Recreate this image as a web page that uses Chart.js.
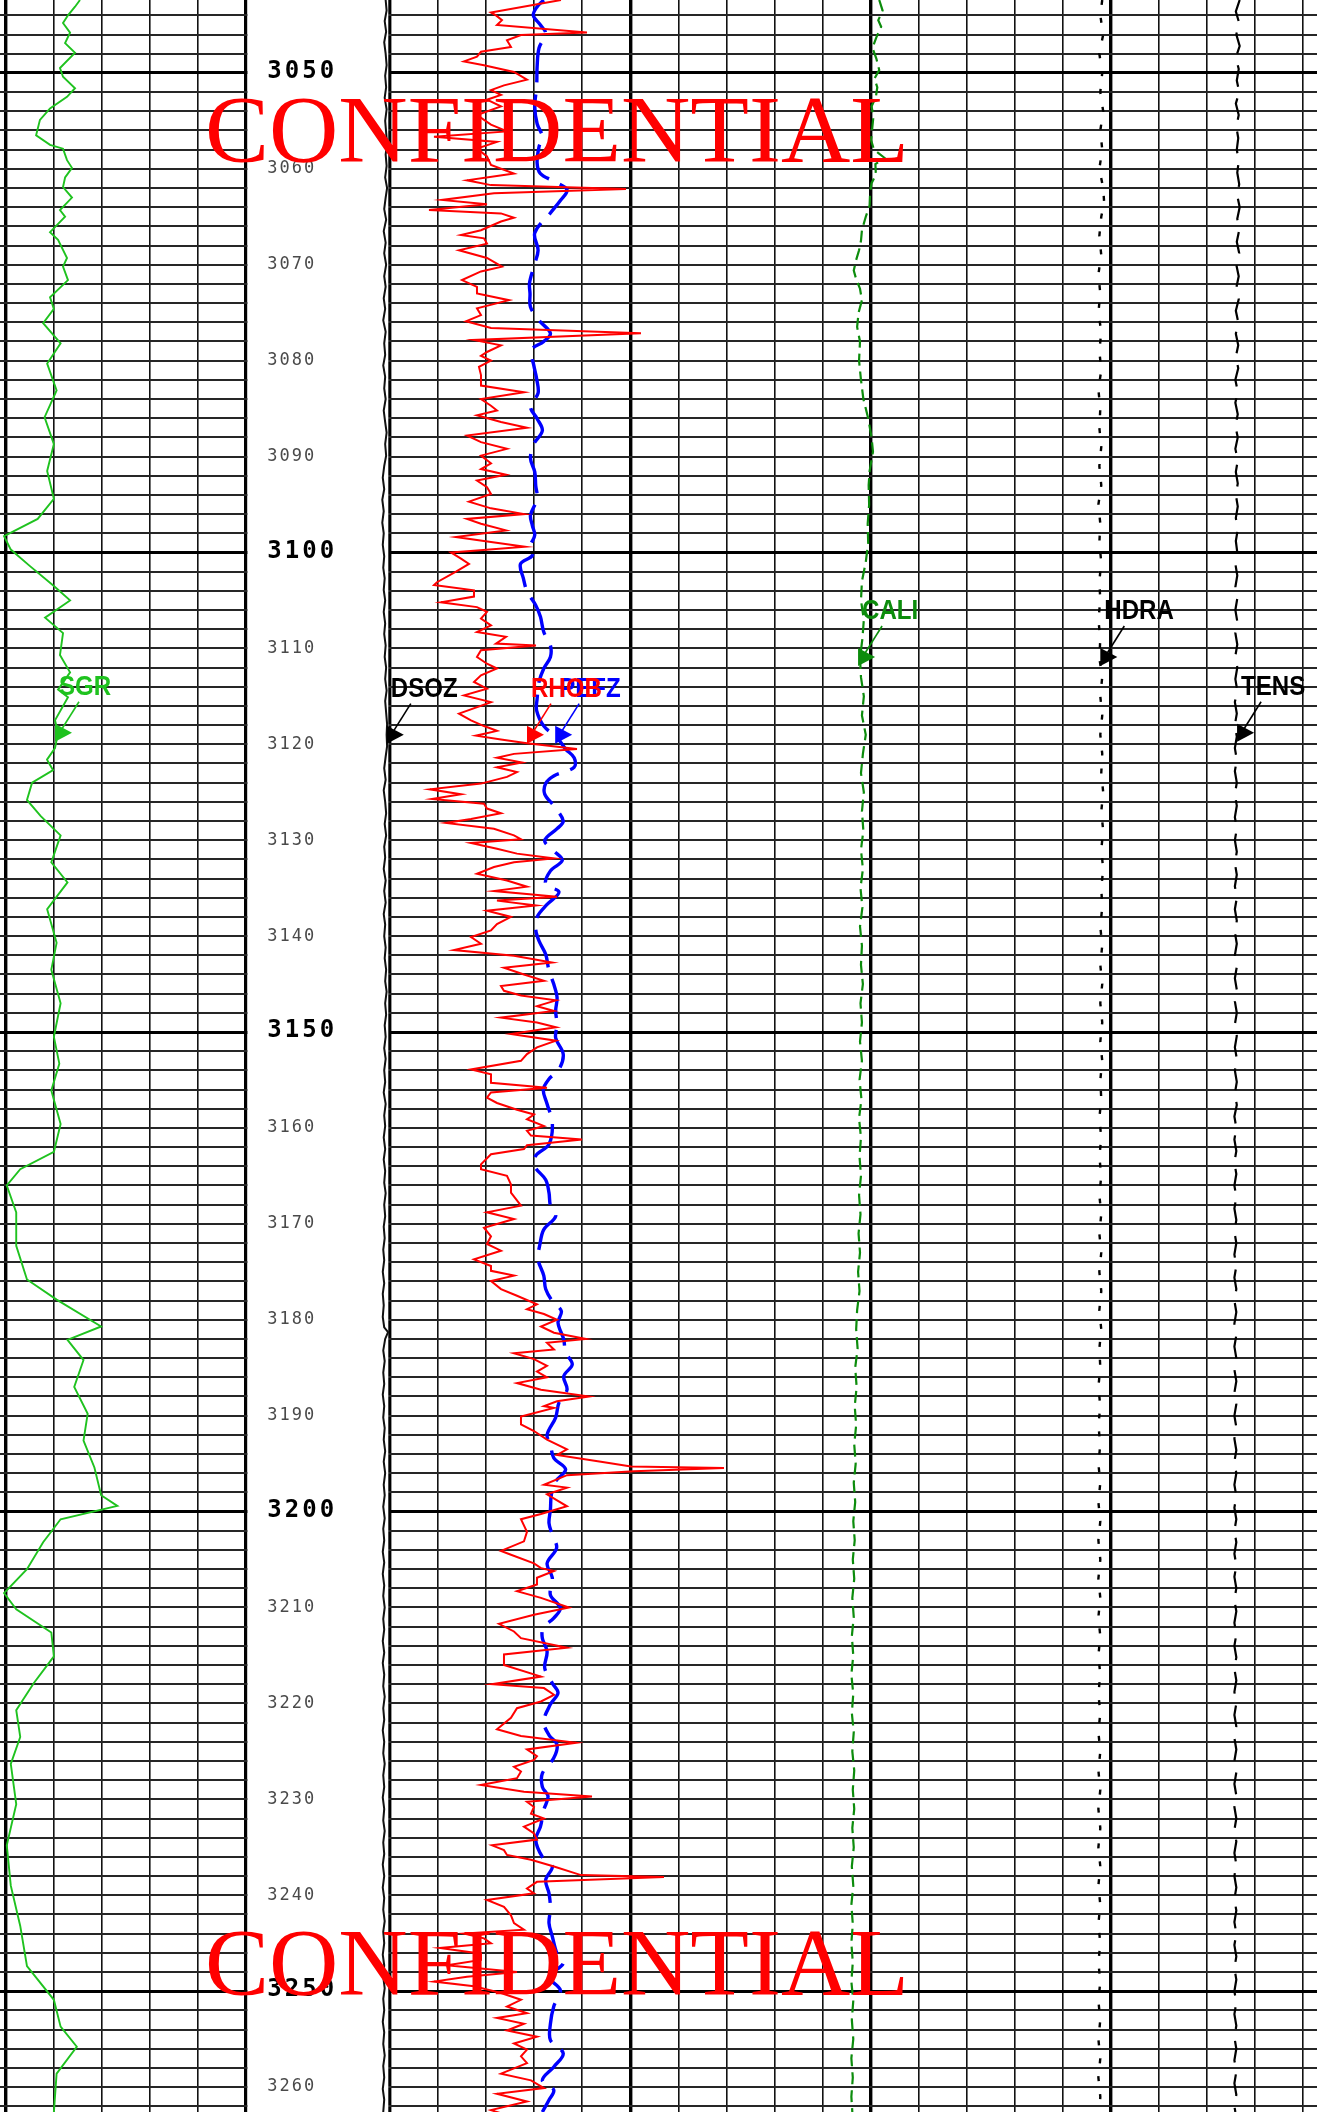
<!DOCTYPE html>
<html><head><meta charset="utf-8">
<script src="https://cdn.jsdelivr.net/npm/chart.js@4.4.1/dist/chart.umd.min.js"></script>
<style>html,body{margin:0;padding:0;background:#fff;overflow:hidden;width:1317px;height:2112px}canvas{display:block}</style>
</head><body>
<canvas id="c" width="1317" height="2112"></canvas>
<script>
// ---------- depth range and tick labels ----------
const depthTop = 3042.4, depthBase = 3262.6;
const depthLabels = [3050,3060,3070,3080,3090,3100,3110,3120,3130,3140,3150,3160,3170,3180,3190,3200,3210,3220,3230,3240,3250,3260];
const depthGridStep = 2;

// ---------- curves: [depth, value] ----------
const sgr = [[3042.4,46.5],[3043.1,43.4],[3044.0,39.0],[3044.8,35.9],[3045.8,40.3],[3046.9,37.2],[3047.9,43.4],[3049.5,34.0],[3050.4,35.9],[3051.6,43.4],[3052.5,38.4],[3053.7,27.8],[3054.9,21.5],[3056.5,19.1],[3057.5,27.8],[3057.9,35.9],[3059.1,38.4],[3059.9,41.5],[3060.9,37.2],[3061.9,35.9],[3063.0,41.5],[3064.3,34.0],[3065.0,37.2],[3066.6,27.8],[3067.4,32.8],[3069.3,38.4],[3070.2,35.9],[3071.6,39.0],[3073.4,27.8],[3074.6,30.2],[3076.1,23.5],[3078.2,34.4],[3080.3,26.0],[3083.1,31.9],[3085.9,24.4],[3088.7,30.2],[3091.5,26.0],[3094.4,30.2],[3096.5,20.1],[3098.3,-0.9],[3099.7,3.3],[3101.4,15.1],[3103.5,30.2],[3105.0,40.3],[3106.8,24.7],[3108.4,35.9],[3110.7,34.0],[3112.5,40.3],[3114.3,32.8],[3115.1,39.0],[3117.5,30.9],[3118.8,32.8],[3120.4,30.9],[3121.6,25.9],[3122.7,29.7],[3124.0,16.6],[3125.8,13.4],[3127.5,22],[3129.5,34.4],[3132.3,28.6],[3134.4,38.7],[3137.2,26.0],[3140.7,31.9],[3143.5,28.6],[3147.0,34.4],[3150.5,30.2],[3153.3,33.6],[3156.1,28.6],[3159.6,34.4],[3162.5,30.2],[3164.3,9.2],[3166.0,0.8],[3168.8,6.7],[3172.3,6.7],[3175.8,13.4],[3177.9,31.9],[3180.7,59.7],[3182.1,38.7],[3184.2,48.7],[3187.0,42.9],[3189.8,51.3],[3192.6,48.7],[3195.4,55.5],[3198.3,59.7],[3199.4,69.8],[3200.8,34.4],[3203.2,23.5],[3206.0,13.4],[3208.5,-0.9],[3210.2,6.7],[3212.6,28.6],[3215.1,30.2],[3217.9,17.6],[3220.7,6.7],[3223.5,9.2],[3226.3,3.3],[3230.5,6.7],[3234.8,0.8],[3239.0,3.3],[3243.2,9.2],[3247.4,13.4],[3250.9,30.2],[3253.7,34.4],[3255.8,44.5],[3258.6,31.9],[3262.6,30.2]];

const rhob = [[3042.4,2.121],[3043.7,2.051],[3044.0,2.056],[3044.5,2.062],[3045.0,2.057],[3045.8,2.147],[3046.05,2.081],[3046.6,2.067],[3047.3,2.071],[3047.8,2.041],[3048.3,2.037],[3048.8,2.024],[3049.2,2.044],[3049.9,2.074],[3050.7,2.087],[3051.3,2.064],[3051.8,2.051],[3052.3,2.061],[3052.8,2.047],[3053.5,2.061],[3054.4,2.037],[3055.4,2.051],[3056.1,2.067],[3056.65,1.994],[3057.2,2.057],[3057.9,2.037],[3058.7,2.047],[3059.6,2.051],[3060.5,2.074],[3061.2,2.027],[3061.7,2.051],[3062.1,2.186],[3062.55,2.054],[3063.25,2.002],[3063.7,2.047],[3064.3,1.989],[3064.65,2.061],[3065.1,2.074],[3065.5,2.061],[3066.4,2.041],[3066.9,2.021],[3067.25,2.044],[3067.8,2.047],[3068.5,2.019],[3069.3,2.047],[3070.2,2.062],[3070.7,2.041],[3071.6,2.022],[3072.3,2.037],[3073.0,2.037],[3073.7,2.069],[3074.55,2.037],[3075.25,2.041],[3075.9,2.026],[3076.6,2.051],[3077.15,2.201],[3077.85,2.034],[3078.4,2.061],[3079.1,2.047],[3079.5,2.041],[3080.0,2.051],[3080.65,2.039],[3081.5,2.041],[3082.6,2.041],[3083.3,2.084],[3084.0,2.041],[3084.7,2.051],[3085.2,2.057],[3085.7,2.037],[3086.4,2.061],[3087.0,2.087],[3087.8,2.027],[3088.5,2.041],[3089.2,2.067],[3089.9,2.041],[3090.7,2.051],[3091.3,2.041],[3091.9,2.066],[3092.5,2.037],[3093.2,2.047],[3093.9,2.051],[3094.7,2.029],[3095.4,2.051],[3096.0,2.084],[3096.5,2.027],[3097.0,2.041],[3097.7,2.066],[3098.4,2.016],[3098.9,2.051],[3099.4,2.085],[3100.0,2.011],[3100.65,2.021],[3101.2,2.029],[3102.0,2.016],[3103.1,1.997],[3103.4,1.994],[3103.95,2.034],[3104.6,2.034],[3105.2,2.001],[3105.7,2.037],[3106.2,2.047],[3106.9,2.041],[3107.6,2.051],[3108.3,2.037],[3108.8,2.066],[3109.5,2.056],[3109.7,2.096],[3110.2,2.041],[3110.9,2.037],[3111.6,2.047],[3112.1,2.057],[3112.8,2.041],[3113.5,2.034],[3114.2,2.047],[3114.9,2.024],[3115.6,2.051],[3116.8,2.019],[3117.5,2.031],[3118.1,2.044],[3118.6,2.057],[3119.1,2.036],[3119.5,2.061],[3119.9,2.087],[3120.5,2.137],[3121.0,2.074],[3121.4,2.057],[3121.9,2.082],[3122.4,2.057],[3122.9,2.077],[3123.4,2.067],[3124.1,2.041],[3124.7,1.990],[3125.2,2.021],[3125.7,1.992],[3126.2,2.044],[3126.7,2.047],[3127.2,2.061],[3127.8,2.031],[3128.2,2.006],[3128.8,2.054],[3129.5,2.074],[3129.9,2.081],[3130.3,2.031],[3130.9,2.057],[3131.4,2.077],[3131.9,2.114],[3132.3,2.074],[3132.8,2.054],[3133.5,2.037],[3134.2,2.067],[3134.85,2.087],[3135.3,2.054],[3135.9,2.117],[3136.3,2.057],[3136.8,2.096],[3137.35,2.047],[3138.0,2.071],[3138.75,2.057],[3139.4,2.051],[3140.1,2.031],[3140.8,2.041],[3141.45,2.014],[3142.05,2.074],[3142.75,2.112],[3143.3,2.064],[3144.0,2.084],[3144.65,2.104],[3145.2,2.061],[3145.7,2.064],[3146.2,2.081],[3146.7,2.116],[3147.3,2.097],[3147.8,2.114],[3148.5,2.061],[3149.0,2.097],[3149.5,2.116],[3150.2,2.071],[3150.9,2.116],[3151.6,2.097],[3152.3,2.087],[3153.0,2.081],[3153.9,2.031],[3154.4,2.051],[3155.3,2.051],[3155.8,2.107],[3156.3,2.051],[3156.85,2.047],[3157.4,2.057],[3158.1,2.077],[3158.6,2.094],[3159.1,2.087],[3159.8,2.104],[3160.3,2.087],[3160.8,2.091],[3161.2,2.142],[3161.8,2.087],[3162.2,2.084],[3162.75,2.051],[3163.8,2.041],[3164.3,2.041],[3165.0,2.067],[3165.9,2.071],[3166.75,2.071],[3168.1,2.081],[3168.8,2.047],[3169.5,2.074],[3170.4,2.044],[3171.3,2.051],[3172.1,2.047],[3172.8,2.061],[3173.7,2.034],[3174.4,2.051],[3174.9,2.051],[3175.4,2.074],[3175.95,2.051],[3176.8,2.061],[3177.5,2.077],[3178.4,2.097],[3178.9,2.087],[3179.4,2.104],[3180.0,2.117],[3180.7,2.101],[3181.35,2.114],[3182.0,2.146],[3182.4,2.107],[3183.1,2.114],[3183.5,2.074],[3184.1,2.094],[3184.8,2.107],[3185.4,2.097],[3186.0,2.107],[3186.6,2.077],[3187.3,2.101],[3188.0,2.149],[3188.5,2.117],[3189.0,2.104],[3189.2,2.114],[3190.1,2.081],[3190.9,2.081],[3191.6,2.094],[3192.5,2.107],[3193.5,2.127],[3194.1,2.117],[3194.8,2.161],[3195.3,2.191],[3195.45,2.284],[3195.8,2.194],[3196.2,2.127],[3197.2,2.104],[3197.5,2.127],[3198.2,2.107],[3199.45,2.127],[3200.25,2.101],[3200.8,2.081],[3202.1,2.087],[3203.1,2.084],[3204.1,2.061],[3204.5,2.071],[3205.4,2.094],[3205.9,2.101],[3206.2,2.114],[3206.9,2.097],[3207.6,2.097],[3208.3,2.077],[3209.0,2.101],[3210.0,2.129],[3210.75,2.094],[3211.7,2.059],[3212.5,2.074],[3213.2,2.081],[3214.2,2.127],[3214.9,2.064],[3216.0,2.064],[3217.2,2.101],[3218.0,2.052],[3218.4,2.104],[3219.1,2.114],[3219.8,2.101],[3220.5,2.077],[3221.5,2.071],[3222.7,2.057],[3223.4,2.081],[3224.1,2.136],[3224.8,2.087],[3225.5,2.097],[3225.9,2.094],[3226.6,2.074],[3227.1,2.081],[3227.8,2.077],[3228.5,2.041],[3229.2,2.084],[3229.7,2.152],[3230.25,2.087],[3230.8,2.094],[3231.5,2.091],[3232.0,2.104],[3232.85,2.084],[3233.55,2.094],[3234.2,2.097],[3234.8,2.052],[3235.3,2.064],[3235.8,2.067],[3236.3,2.091],[3237.0,2.114],[3237.9,2.141],[3238.1,2.224],[3238.6,2.097],[3239.3,2.087],[3239.8,2.094],[3240.5,2.047],[3241.2,2.064],[3242.1,2.071],[3242.9,2.074],[3243.6,2.084],[3244.0,2.024],[3244.5,2.044],[3245.0,2.051],[3245.5,2.000],[3246.1,2.041],[3246.75,2.041],[3247.3,2.007],[3248.0,2.077],[3248.5,2.027],[3249.0,1.994],[3249.5,2.034],[3250.2,2.061],[3250.9,2.081],[3251.6,2.067],[3252.3,2.087],[3252.8,2.057],[3253.4,2.084],[3254.1,2.067],[3254.75,2.097],[3255.45,2.074],[3256.1,2.087],[3256.8,2.081],[3257.5,2.087],[3258.6,2.061],[3259.3,2.091],[3260.1,2.104],[3260.7,2.057],[3261.5,2.087],[3262.4,2.051],[3262.7,2.060]];

const pefz = [[3042.4,3.24],[3043.1,3.10],[3044.0,3.02],[3045.0,3.17],[3045.9,3.28],[3047.4,3.14],[3049.35,3.10],[3051.4,3.09],[3053.5,3.05],[3055.3,3.10],[3056.65,3.21],[3057.7,3.14],[3059.4,3.10],[3060.5,3.17],[3061.3,3.45],[3062.2,3.73],[3063.3,3.59],[3064.6,3.38],[3066.7,3.05],[3068.5,3.12],[3070.2,3.03],[3071.9,2.94],[3073.0,2.95],[3074.4,2.96],[3075.8,3.14],[3077.15,3.38],[3078.0,3.24],[3078.9,2.98],[3080.5,3.03],[3081.9,3.09],[3083.4,3.12],[3084.8,2.96],[3086.05,3.10],[3087.3,3.21],[3088.7,3.03],[3090.2,2.96],[3091.6,3.05],[3093.0,3.07],[3094.4,3.10],[3096.1,2.96],[3097.2,3.00],[3098.2,3.05],[3099.3,2.96],[3100.3,3.00],[3101.2,2.75],[3102.7,2.81],[3104.1,2.89],[3105.5,3.07],[3106.7,3.17],[3108.3,3.24],[3109.7,3.38],[3110.9,3.38],[3112.1,3.24],[3113.5,3.14],[3115.25,3.10],[3116.5,3.09],[3118.1,3.24],[3119.3,3.52],[3120.5,3.70],[3121.4,3.88],[3122.4,3.88],[3123.3,3.45],[3124.1,3.28],[3125.2,3.26],[3126.4,3.45],[3128.0,3.65],[3128.8,3.52],[3130.05,3.26],[3131.1,3.45],[3132.1,3.63],[3133.2,3.38],[3134.6,3.28],[3135.4,3.56],[3136.7,3.31],[3138.0,3.10],[3139.3,3.07],[3140.5,3.14],[3141.9,3.28],[3143.6,3.35],[3145.0,3.45],[3146.4,3.52],[3147.8,3.49],[3149.2,3.52],[3150.6,3.49],[3152.3,3.65],[3153.9,3.56],[3154.9,3.35],[3156.0,3.23],[3157.5,3.31],[3159.45,3.42],[3161.7,3.35],[3162.9,3.07],[3164.0,3.05],[3165.4,3.28],[3166.75,3.35],[3168.1,3.38],[3169.2,3.49],[3170.6,3.24],[3172.1,3.16],[3173.7,3.12],[3175.4,3.24],[3176.8,3.28],[3178.05,3.42],[3179.1,3.61],[3180.3,3.54],[3182.05,3.66],[3183.4,3.70],[3184.65,3.84],[3185.9,3.66],[3187.3,3.73],[3188.65,3.56],[3190.2,3.49],[3192.0,3.31],[3193.0,3.38],[3194.4,3.45],[3195.6,3.70],[3196.85,3.49],[3198.2,3.40],[3199.8,3.38],[3201.2,3.35],[3202.4,3.42],[3203.8,3.51],[3205.4,3.31],[3206.9,3.42],[3208.7,3.38],[3210.05,3.59],[3211.1,3.45],[3212.1,3.23],[3213.2,3.21],[3214.6,3.31],[3216.3,3.26],[3217.9,3.42],[3218.9,3.54],[3220.1,3.38],[3221.9,3.24],[3223.3,3.35],[3224.3,3.52],[3225.7,3.45],[3227.3,3.21],[3228.7,3.21],[3229.7,3.33],[3231.1,3.24],[3232.85,3.17],[3234.2,3.07],[3236.0,3.21],[3237.0,3.42],[3238.4,3.28],[3239.8,3.35],[3241.4,3.38],[3242.9,3.35],[3244.3,3.42],[3246.1,3.52],[3247.1,3.65],[3248.5,3.35],[3249.9,3.59],[3251.6,3.45],[3253.4,3.38],[3255.1,3.38],[3256.5,3.65],[3257.9,3.45],[3259.3,3.21],[3260.3,3.45],[3261.35,3.35],[3262.6,3.21]];

const dsoz = [[3042.4,-0.045],[3043.5,-0.035],[3044.6,-0.055],[3045.7,-0.04],[3046.8,-0.06],[3048,-0.045],[3049.2,-0.035],[3050.3,-0.05],[3051.5,-0.04],[3052.6,-0.055],[3053.8,-0.035],[3055,-0.05],[3056.2,-0.04],[3057.4,-0.03],[3058.5,-0.045],[3059.7,-0.035],[3060.9,-0.05],[3062,-0.03],[3063,-0.045],[3064.2,-0.06],[3065.3,-0.04],[3066.5,-0.065],[3067.7,-0.045],[3068.8,-0.06],[3070,-0.04],[3071.2,-0.06],[3072.3,-0.045],[3073.5,-0.065],[3074.6,-0.05],[3075.8,-0.07],[3077,-0.045],[3078.2,-0.06],[3079.4,-0.05],[3080.5,-0.07],[3081.7,-0.05],[3082.9,-0.06],[3084,-0.045],[3085.2,-0.065],[3086.4,-0.05],[3087.5,-0.035],[3088.7,-0.05],[3089.9,-0.04],[3091,-0.06],[3092.2,-0.075],[3093.4,-0.06],[3094.5,-0.08],[3095.7,-0.065],[3096.9,-0.08],[3098,-0.065],[3099.2,-0.075],[3100.4,-0.06],[3101.6,-0.07],[3102.7,-0.055],[3103.9,-0.065],[3105,-0.05],[3106.2,-0.065],[3107.4,-0.05],[3108.5,-0.06],[3109.7,-0.045],[3110.9,-0.055],[3112,-0.04],[3113.2,-0.05],[3114.4,-0.035],[3115.5,-0.05],[3116.7,-0.04],[3117.9,-0.03],[3119,-0.035],[3120.2,-0.03],[3121.3,-0.045],[3122.5,-0.06],[3123.7,-0.045],[3124.8,-0.065],[3126,-0.05],[3127.2,-0.04],[3128.3,-0.055],[3129.5,-0.04],[3130.7,-0.06],[3131.8,-0.05],[3133,-0.065],[3134.2,-0.045],[3135.3,-0.06],[3136.5,-0.045],[3137.7,-0.065],[3138.8,-0.05],[3140,-0.06],[3141.2,-0.045],[3142.3,-0.055],[3143.5,-0.04],[3144.7,-0.05],[3145.8,-0.035],[3147,-0.05],[3148.2,-0.04],[3149.3,-0.055],[3150.5,-0.045],[3151.7,-0.06],[3152.8,-0.045],[3154,-0.06],[3155.2,-0.05],[3156.3,-0.065],[3157.5,-0.045],[3158.7,-0.06],[3159.8,-0.05],[3161,-0.065],[3162.2,-0.05],[3163.3,-0.065],[3164.5,-0.05],[3165.7,-0.06],[3166.8,-0.045],[3168,-0.06],[3169.2,-0.05],[3170.3,-0.065],[3171.5,-0.055],[3172.7,-0.07],[3173.8,-0.06],[3175,-0.075],[3176.2,-0.06],[3177.3,-0.075],[3178.5,-0.065],[3179.7,-0.075],[3180.8,-0.06],[3181.3,-0.02],[3182,-0.05],[3183.2,-0.07],[3184.3,-0.055],[3185.5,-0.07],[3186.7,-0.06],[3187.8,-0.075],[3189,-0.06],[3190.2,-0.07],[3191.3,-0.055],[3192.5,-0.065],[3193.7,-0.05],[3194.8,-0.065],[3196,-0.05],[3197.2,-0.065],[3198.3,-0.055],[3199.5,-0.07],[3200.7,-0.055],[3201.8,-0.07],[3203,-0.06],[3204.2,-0.075],[3205.3,-0.06],[3206.5,-0.075],[3207.7,-0.06],[3208.8,-0.07],[3210,-0.055],[3211.2,-0.07],[3212.3,-0.06],[3213.5,-0.075],[3214.7,-0.06],[3215.8,-0.075],[3217,-0.06],[3218.2,-0.07],[3219.3,-0.055],[3220.5,-0.07],[3221.7,-0.06],[3222.8,-0.075],[3224,-0.06],[3225.2,-0.07],[3226.3,-0.055],[3227.5,-0.07],[3228.7,-0.06],[3229.8,-0.075],[3231,-0.06],[3232.2,-0.07],[3233.3,-0.055],[3234.5,-0.07],[3235.7,-0.06],[3236.8,-0.075],[3238,-0.06],[3239.2,-0.075],[3240.3,-0.06],[3241.5,-0.07],[3242.7,-0.055],[3243.8,-0.07],[3245,-0.06],[3246.2,-0.075],[3247.3,-0.06],[3248.5,-0.07],[3249.7,-0.055],[3250.8,-0.07],[3252,-0.06],[3253.2,-0.075],[3254.3,-0.06],[3255.5,-0.07],[3256.7,-0.055],[3257.8,-0.07],[3259,-0.06],[3260.2,-0.075],[3261.3,-0.06],[3262.6,-0.07]];

const cali = [[3042.4,10.18],[3043.5,10.25],[3044.5,10.16],[3045.2,10.22],[3046.3,10.12],[3047.4,10.04],[3048.5,10.12],[3049.7,10.18],[3050.6,10.08],[3051.5,10.14],[3052.5,10.11],[3053.5,10.02],[3054.5,10.06],[3056.0,10.03],[3057.0,10.01],[3058.0,10.07],[3058.9,10.30],[3059.5,10.10],[3060.6,10.11],[3061.5,10.02],[3062.5,9.99],[3063.8,9.98],[3065.0,9.90],[3066.4,9.82],[3067.5,9.80],[3068.5,9.76],[3069.5,9.70],[3070.6,9.65],[3071.5,9.70],[3072.5,9.78],[3073.7,9.82],[3075.0,9.75],[3076.5,9.72],[3078.0,9.78],[3080.0,9.76],[3082.0,9.80],[3084.0,9.85],[3086.0,9.95],[3088.0,10.02],[3089.5,10.05],[3091.5,9.98],[3093.0,9.96],[3095.0,9.97],[3097.0,9.94],[3099.0,9.95],[3101.0,9.90],[3103.0,9.82],[3105.0,9.80],[3107.0,9.86],[3109.0,9.83],[3111.0,9.78],[3113.0,9.80],[3115.0,9.86],[3117.0,9.82],[3119.0,9.90],[3121.0,9.84],[3123.0,9.80],[3125.0,9.86],[3127.0,9.82],[3129.0,9.85],[3131.0,9.80],[3133.0,9.84],[3135.0,9.79],[3137.0,9.83],[3139.0,9.78],[3141.0,9.82],[3143.0,9.80],[3145.0,9.84],[3147.0,9.79],[3149.0,9.82],[3151.0,9.78],[3153.0,9.82],[3155.0,9.77],[3157.0,9.81],[3159.0,9.76],[3161.0,9.80],[3163.0,9.77],[3165.0,9.80],[3167.0,9.76],[3169.0,9.79],[3171.0,9.75],[3173.0,9.78],[3175.0,9.74],[3177.0,9.77],[3179.0,9.72],[3181.0,9.70],[3183.0,9.73],[3185.0,9.68],[3187.0,9.71],[3189.0,9.67],[3191.0,9.70],[3193.0,9.66],[3195.0,9.69],[3197.0,9.65],[3199.0,9.68],[3201.0,9.64],[3203.0,9.67],[3205.0,9.63],[3207.0,9.66],[3209.0,9.62],[3211.0,9.65],[3213.0,9.61],[3215.0,9.64],[3217.0,9.60],[3219.0,9.64],[3221.0,9.61],[3223.0,9.65],[3225.0,9.62],[3227.0,9.66],[3229.0,9.63],[3231.0,9.66],[3233.0,9.62],[3235.0,9.65],[3237.0,9.61],[3239.0,9.64],[3241.0,9.60],[3243.0,9.63],[3245.0,9.60],[3247.0,9.63],[3249.0,9.60],[3251.0,9.64],[3253.0,9.61],[3255.0,9.64],[3257.0,9.60],[3259.0,9.63],[3261.0,9.60],[3262.6,9.62]];

const hdra = [[3042.4,-0.009],[3044.0,-0.011],[3046.0,-0.008],[3048.0,-0.012],[3050.0,-0.009],[3052.0,-0.011],[3054.0,-0.008],[3056.0,-0.011],[3058.0,-0.009],[3060.0,-0.012],[3062.0,-0.008],[3063.5,-0.007],[3065.0,-0.010],[3067.0,-0.012],[3069.0,-0.010],[3071.0,-0.013],[3073.0,-0.011],[3075.0,-0.013],[3077.0,-0.010],[3079.0,-0.012],[3081.0,-0.010],[3083.0,-0.013],[3085.0,-0.011],[3087.0,-0.012],[3089.0,-0.010],[3091.0,-0.012],[3093.0,-0.010],[3095.0,-0.013],[3097.0,-0.011],[3099.0,-0.012],[3101.0,-0.010],[3103.0,-0.012],[3105.0,-0.011],[3107.0,-0.013],[3109.0,-0.011],[3111.0,-0.012],[3113.0,-0.009],[3115.0,-0.011],[3117.0,-0.009],[3119.0,-0.011],[3121.0,-0.009],[3123.0,-0.010],[3125.0,-0.008],[3127.0,-0.010],[3129.0,-0.008],[3131.0,-0.010],[3133.0,-0.008],[3135.0,-0.010],[3137.0,-0.009],[3139.0,-0.011],[3141.0,-0.009],[3143.0,-0.011],[3145.0,-0.009],[3147.0,-0.011],[3149.0,-0.009],[3151.0,-0.011],[3153.0,-0.009],[3155.0,-0.011],[3157.0,-0.010],[3159.0,-0.012],[3161.0,-0.010],[3163.0,-0.012],[3165.0,-0.010],[3167.0,-0.012],[3169.0,-0.010],[3171.0,-0.012],[3173.0,-0.010],[3175.0,-0.012],[3177.0,-0.010],[3179.0,-0.012],[3181.0,-0.010],[3183.0,-0.012],[3185.0,-0.011],[3187.0,-0.013],[3189.0,-0.011],[3191.0,-0.013],[3193.0,-0.011],[3195.0,-0.013],[3197.0,-0.011],[3199.0,-0.013],[3201.0,-0.011],[3203.0,-0.013],[3205.0,-0.011],[3207.0,-0.013],[3209.0,-0.011],[3211.0,-0.013],[3213.0,-0.011],[3215.0,-0.013],[3217.0,-0.011],[3219.0,-0.013],[3221.0,-0.011],[3223.0,-0.013],[3225.0,-0.011],[3227.0,-0.013],[3229.0,-0.011],[3231.0,-0.013],[3233.0,-0.011],[3235.0,-0.013],[3237.0,-0.011],[3239.0,-0.013],[3241.0,-0.011],[3243.0,-0.013],[3245.0,-0.011],[3247.0,-0.013],[3249.0,-0.011],[3251.0,-0.013],[3253.0,-0.011],[3255.0,-0.013],[3257.0,-0.011],[3259.0,-0.013],[3261.0,-0.011],[3262.6,-0.012]];

const tens = [[3042.4,8840],[3043.6,8800],[3044.8,8835],[3046.0,8805],[3047.2,8840],[3048.4,8800],[3049.6,8830],[3050.8,8810],[3052.0,8835],[3053.2,8800],[3054.4,8830],[3055.6,8805],[3056.8,8825],[3058.0,8810],[3059.2,8830],[3060.4,8815],[3061.6,8835],[3062.8,8815],[3064.0,8840],[3065.2,8815],[3066.4,8835],[3067.6,8810],[3068.8,8835],[3070.0,8805],[3071.2,8830],[3072.4,8805],[3073.6,8830],[3074.8,8800],[3076.0,8825],[3077.2,8800],[3078.4,8825],[3079.6,8800],[3080.8,8825],[3082.0,8795],[3083.2,8820],[3084.4,8795],[3085.6,8820],[3086.8,8795],[3088.0,8820],[3089.2,8795],[3090.4,8820],[3091.6,8800],[3092.8,8820],[3094.0,8800],[3095.2,8820],[3096.4,8800],[3097.6,8820],[3098.8,8800],[3100.0,8815],[3101.2,8795],[3102.4,8815],[3103.6,8795],[3104.8,8815],[3106.0,8795],[3107.2,8815],[3108.4,8795],[3109.6,8815],[3110.8,8795],[3112.0,8815],[3113.2,8795],[3114.4,8815],[3115.6,8790],[3116.8,8810],[3118.0,8790],[3119.2,8810],[3120.4,8790],[3121.6,8810],[3122.8,8790],[3124.0,8810],[3125.2,8790],[3126.4,8810],[3127.6,8790],[3128.8,8810],[3130.0,8790],[3131.2,8810],[3132.4,8790],[3133.6,8810],[3134.8,8790],[3136.0,8810],[3137.2,8790],[3138.4,8810],[3139.6,8790],[3140.8,8810],[3142.0,8790],[3143.2,8810],[3144.4,8790],[3145.6,8810],[3146.8,8790],[3148.0,8810],[3149.2,8790],[3150.4,8810],[3151.6,8790],[3152.8,8810],[3154.0,8790],[3155.2,8810],[3156.4,8790],[3157.6,8810],[3158.8,8785],[3160.0,8805],[3161.2,8785],[3162.4,8805],[3163.6,8785],[3164.8,8805],[3166.0,8785],[3167.2,8805],[3168.4,8785],[3169.6,8805],[3170.8,8785],[3172.0,8805],[3173.2,8785],[3174.4,8805],[3175.6,8785],[3176.8,8805],[3178.0,8785],[3179.2,8805],[3180.4,8785],[3181.6,8805],[3182.8,8785],[3184.0,8805],[3185.2,8785],[3186.4,8805],[3187.6,8785],[3188.8,8805],[3190.0,8785],[3191.2,8805],[3192.4,8785],[3193.6,8805],[3194.8,8785],[3196.0,8805],[3197.2,8785],[3198.4,8805],[3199.6,8785],[3200.8,8805],[3202.0,8785],[3203.2,8805],[3204.4,8785],[3205.6,8805],[3206.8,8785],[3208.0,8805],[3209.2,8785],[3210.4,8805],[3211.6,8785],[3212.8,8805],[3214.0,8785],[3215.2,8805],[3216.4,8785],[3217.6,8805],[3218.8,8785],[3220.0,8805],[3221.2,8785],[3222.4,8805],[3223.6,8785],[3224.8,8805],[3226.0,8785],[3227.2,8805],[3228.4,8785],[3229.6,8805],[3230.8,8785],[3232.0,8805],[3233.2,8785],[3234.4,8805],[3235.6,8785],[3236.8,8805],[3238.0,8785],[3239.2,8805],[3240.4,8785],[3241.6,8805],[3242.8,8785],[3244.0,8805],[3245.2,8785],[3246.4,8805],[3247.6,8785],[3248.8,8805],[3250.0,8785],[3251.2,8805],[3252.4,8785],[3253.6,8805],[3254.8,8785],[3256.0,8805],[3257.2,8785],[3258.4,8805],[3259.6,8785],[3260.8,8805],[3262.0,8785],[3262.6,8795]];

// ---------- layout of the log (pixel geometry, not data) ----------
const W = 1317, H = 2112;
const GRID_X0 = 5.5, GRID_DIV = 48.06;        // grid origin and division width
const gridDivs = [0,1,2,3,4,5,8,9,10,11,12,13,14,15,16,17,18,19,20,21,22,23,24,25,26,27];
const heavyDivs = [0,5,8,13,18,23];
function px(div){ return GRID_X0 + div * GRID_DIV; }
function span(v0, v1, d0, d1){
  const p0 = px(d0), p1 = px(d1), k = (v1 - v0) / (p1 - p0);
  return { min: v0 - p0 * k, max: v0 + (W - p0) * k };
}
const hidden = (v0, v1, d0, d1) => Object.assign({ type:'linear', display:false }, span(v0, v1, d0, d1));

const depthGrid = [];
for (let d = 3044; d <= 3262; d += depthGridStep) depthGrid.push(d);

const toXY = arr => arr.map(p => ({ x: p[1], y: p[0] }));

const curveTags = [
  { name:'SGR',  axis:'xsgr',  value:30.9,  depth:3118.8, color:'#1fc21f' },
  { name:'DSOZ', axis:'xdsoz', value:-0.033, depth:3119.0, color:'#000000' },
  { name:'PEFZ', axis:'xpefz', value:3.48,  depth:3119.0, color:'#0000ff' },
  { name:'RHOB', axis:'xrhob', value:2.087, depth:3119.0, color:'#ff0000' },
  { name:'CALI', axis:'xcali', value:9.74,  depth:3110.9, color:'#0c8c0c' },
  { name:'HDRA', axis:'xhdra', value:-0.011, depth:3110.9, color:'#000000' },
  { name:'TENS', axis:'xtens', value:8813,  depth:3118.8, color:'#000000' }
];
const watermarkText = 'CONFIDENTIAL';
const watermarkDepths = [3059.3, 3250.4];

const logPlugin = {
  id: 'logDecor',
  beforeDatasetsDraw(chart){
    const ctx = chart.ctx, y = chart.scales.y;
    ctx.save();
    ctx.fillStyle = '#ffffff';
    ctx.fillRect(px(5) + 1.7, 0, px(8) - px(5) - 3.4, H);
    ctx.textBaseline = 'middle';
    ctx.textAlign = 'left';
    depthLabels.forEach(d => {
      const major = d % 50 === 0;
      ctx.font = major ? 'bold 24px "DejaVu Sans Mono"' : '17px "DejaVu Sans Mono"';
      ctx.fillStyle = major ? '#000000' : '#4a4a4a';
      ctx.letterSpacing = major ? '3px' : '2px';
      ctx.fillText(String(d), px(5) + 21.5, y.getPixelForValue(d) + (major ? -1 : 0));
    });
    ctx.letterSpacing = '0px';
    ctx.restore();
  },
  afterDatasetsDraw(chart){
    const ctx = chart.ctx, y = chart.scales.y;
    ctx.save();
    curveTags.forEach(t => {
      const tx = chart.scales[t.axis].getPixelForValue(t.value);
      const ty = y.getPixelForValue(t.depth);
      ctx.strokeStyle = t.color; ctx.fillStyle = t.color; ctx.lineWidth = 1.6;
      ctx.beginPath(); ctx.moveTo(tx + 24, ty - 31); ctx.lineTo(tx + 7, ty - 4); ctx.stroke();
      ctx.beginPath(); ctx.moveTo(tx, ty - 9); ctx.lineTo(tx, ty + 9); ctx.lineTo(tx + 17, ty); ctx.closePath(); ctx.fill();
      ctx.save();
      ctx.translate(tx + 4, ty - 38);
      ctx.scale(0.86, 1);
      ctx.font = 'bold 28px "Liberation Sans"';
      ctx.textBaseline = 'alphabetic';
      ctx.fillText(t.name, 0, 0);
      ctx.restore();
    });
    ctx.font = '96px "Liberation Serif"';
    ctx.fillStyle = '#ff0000';
    ctx.textBaseline = 'alphabetic';
    watermarkDepths.forEach(d => ctx.fillText(watermarkText, 205, y.getPixelForValue(d)));
    ctx.restore();
  }
};

const line = (label, data, axis, color, width, dash, order, tension) => ({
  label, data: toXY(data), xAxisID: axis, yAxisID: 'y',
  borderColor: color, borderWidth: width, borderDash: dash,
  pointRadius: 0, fill: false, tension: tension || 0, order, clip: false
});

new Chart(document.getElementById('c'), {
  type: 'line',
  data: { datasets: [
    line('RHOB', rhob, 'xrhob', '#ff0000', 2, [], 1),
    line('PEFZ', pefz, 'xpefz', '#0000ff', 3.4, [40, 12], 2, 0.35),
    line('DSOZ', dsoz, 'xdsoz', '#111111', 2, [], 3),
    line('SGR',  sgr,  'xsgr',  '#1fc21f', 1.9, [], 4),
    line('CALI', cali, 'xcali', '#0c8c0c', 2.2, [12, 6], 5),
    line('HDRA', hdra, 'xhdra', '#000000', 2.4, [5, 13], 6),
    line('TENS', tens, 'xtens', '#000000', 2.2, [22, 12], 7)
  ]},
  options: {
    responsive: false, animation: false, devicePixelRatio: 1,
    indexAxis: 'y',
    layout: { padding: 0 },
    plugins: { legend: { display:false }, tooltip: { enabled:false } },
    scales: {
      xg: {
        type:'linear', position:'top', display:true,
        min: -GRID_X0 / GRID_DIV, max: (W - GRID_X0) / GRID_DIV,
        ticks:{ display:false }, border:{ display:false },
        grid:{ drawTicks:false,
          color: c => heavyDivs.includes(c.tick && c.tick.value) ? '#000000' : '#111111',
          lineWidth: c => heavyDivs.includes(c.tick && c.tick.value) ? 3.4 : 1.6 },
        afterBuildTicks: s => { s.ticks = gridDivs.map(v => ({ value: v })); }
      },
      y: {
        type:'linear', position:'left', display:true, reverse:true,
        min: depthTop, max: depthBase,
        ticks:{ display:false }, border:{ display:false },
        grid:{ drawTicks:false,
          color: c => (c.tick && c.tick.value % 50 === 0) ? '#000000' : '#262626',
          lineWidth: c => (c.tick && c.tick.value % 50 === 0) ? 3 : 2 },
        afterBuildTicks: s => { s.ticks = depthGrid.map(v => ({ value: v })); }
      },
      xsgr:  hidden(0, 150, 0, 5),
      xrhob: hidden(1.95, 2.9112, 8, 28),
      xpefz: hidden(0, 20.25, 8, 28),
      xdsoz: hidden(0, 10, 8, 28),
      xcali: hidden(0, 20, 8, 28),
      xhdra: hidden(-0.75, 0.25, 8, 28),
      xtens: hidden(0, 10000, 8, 28)
    }
  },
  plugins: [logPlugin]
});
</script>
</body></html>
